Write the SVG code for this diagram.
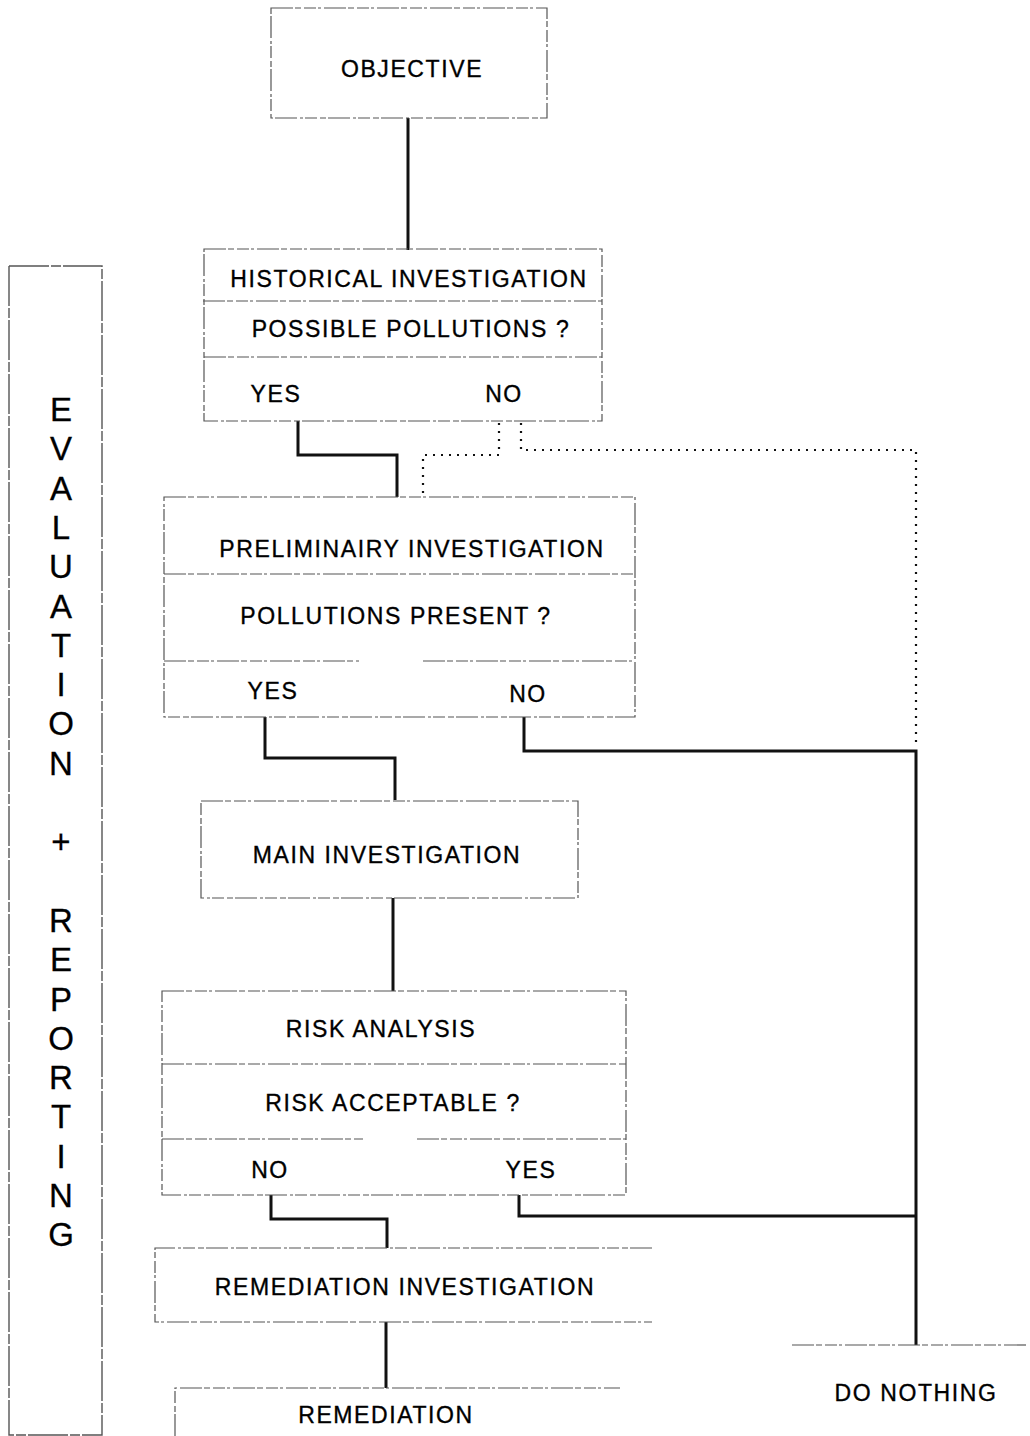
<svg xmlns="http://www.w3.org/2000/svg" width="1030" height="1436" viewBox="0 0 1030 1436">
<style>
.box{fill:none;stroke:#555;stroke-width:1.2;stroke-dasharray:22 2 6 3 12 2 3 3}
.side{fill:none;stroke:#555;stroke-width:1.4;stroke-dasharray:40 2 10 2}
.con{fill:none;stroke:#111;stroke-width:3;stroke-linejoin:miter}
.dot{fill:none;stroke:#111;stroke-width:2.2;stroke-dasharray:2 6}
.t{font-family:"Liberation Sans",Arial,sans-serif;font-size:23px;letter-spacing:1.6px;fill:#000;stroke:#000;stroke-width:0.35;text-anchor:middle}
.v{font-family:"Liberation Sans",Arial,sans-serif;font-size:33px;fill:#000;stroke:#000;stroke-width:0.3;text-anchor:middle}
</style>
<rect width="1030" height="1436" fill="#fff"/>
<g id="connectors">
<path class="con" d="M408 118V250"/>
<path class="con" d="M298 421V455H397V497"/>
<path class="con" d="M265 717V758H395V800"/>
<path class="con" d="M524 717V751H916V1345"/>
<path class="con" d="M393 898V991"/>
<path class="con" d="M271 1195V1219H387V1248"/>
<path class="con" d="M519 1195V1216H916"/>
<path class="con" d="M386 1322V1388"/>
<path class="dot" d="M499 423V455H423V497"/>
<path class="dot" d="M521 423V450H916V745"/>
</g>
<g id="evaluation-reporting">
<path class="side" d="M9 266V1435H102V266H9"/>
<text class="v" x="61">
<tspan x="61" y="421">E</tspan><tspan x="61" y="460.3">V</tspan><tspan x="61" y="499.6">A</tspan><tspan x="61" y="538.9">L</tspan><tspan x="61" y="578.2">U</tspan><tspan x="61" y="617.5">A</tspan><tspan x="61" y="656.8">T</tspan><tspan x="61" y="696.1">I</tspan><tspan x="61" y="735.4">O</tspan><tspan x="61" y="774.7">N</tspan><tspan x="61" y="853.3">+</tspan><tspan x="61" y="931.9">R</tspan><tspan x="61" y="971.2">E</tspan><tspan x="61" y="1010.5">P</tspan><tspan x="61" y="1049.8">O</tspan><tspan x="61" y="1089.1">R</tspan><tspan x="61" y="1128.4">T</tspan><tspan x="61" y="1167.7">I</tspan><tspan x="61" y="1207">N</tspan><tspan x="61" y="1246.3">G</tspan>
</text>
</g>
<g id="objective">
<rect class="box" x="271" y="8" width="276" height="110"/>
<text class="t" x="412" y="77">OBJECTIVE</text>
</g>
<g id="historical">
<rect class="box" x="204" y="249" width="398" height="172"/>
<path class="box" d="M203 301H602M204 357H602"/>
<text class="t" x="409" y="287">HISTORICAL INVESTIGATION</text>
<text class="t" x="411" y="337">POSSIBLE POLLUTIONS ?</text>
<text class="t" x="276" y="402">YES</text>
<text class="t" x="504" y="402">NO</text>
</g>
<g id="preliminary">
<rect class="box" x="164" y="497" width="471" height="220"/>
<path class="box" d="M164 574H635M164 661H359M423 661H635"/>
<text class="t" x="412" y="557">PRELIMINAIRY INVESTIGATION</text>
<text class="t" x="396" y="624">POLLUTIONS PRESENT ?</text>
<text class="t" x="273" y="699">YES</text>
<text class="t" x="528" y="702">NO</text>
</g>
<g id="main">
<rect class="box" x="201" y="801" width="377" height="97"/>
<text class="t" x="387" y="863">MAIN INVESTIGATION</text>
</g>
<g id="risk">
<rect class="box" x="162" y="991" width="464" height="204"/>
<path class="box" d="M162 1064H626M162 1139H363M417 1139H626"/>
<text class="t" x="381" y="1037">RISK ANALYSIS</text>
<text class="t" x="393" y="1111">RISK ACCEPTABLE ?</text>
<text class="t" x="270" y="1178">NO</text>
<text class="t" x="531" y="1178">YES</text>
</g>
<g id="remediation-investigation">
<path class="box" d="M652 1248H155V1322H652"/>
<text class="t" x="405" y="1295">REMEDIATION INVESTIGATION</text>
</g>
<g id="remediation">
<path class="box" d="M175 1436V1388H620"/>
<text class="t" x="386" y="1423">REMEDIATION</text>
</g>
<g id="do-nothing">
<path class="box" d="M792 1345H1028"/>
<text class="t" x="916" y="1401">DO NOTHING</text>
</g>
</svg>
